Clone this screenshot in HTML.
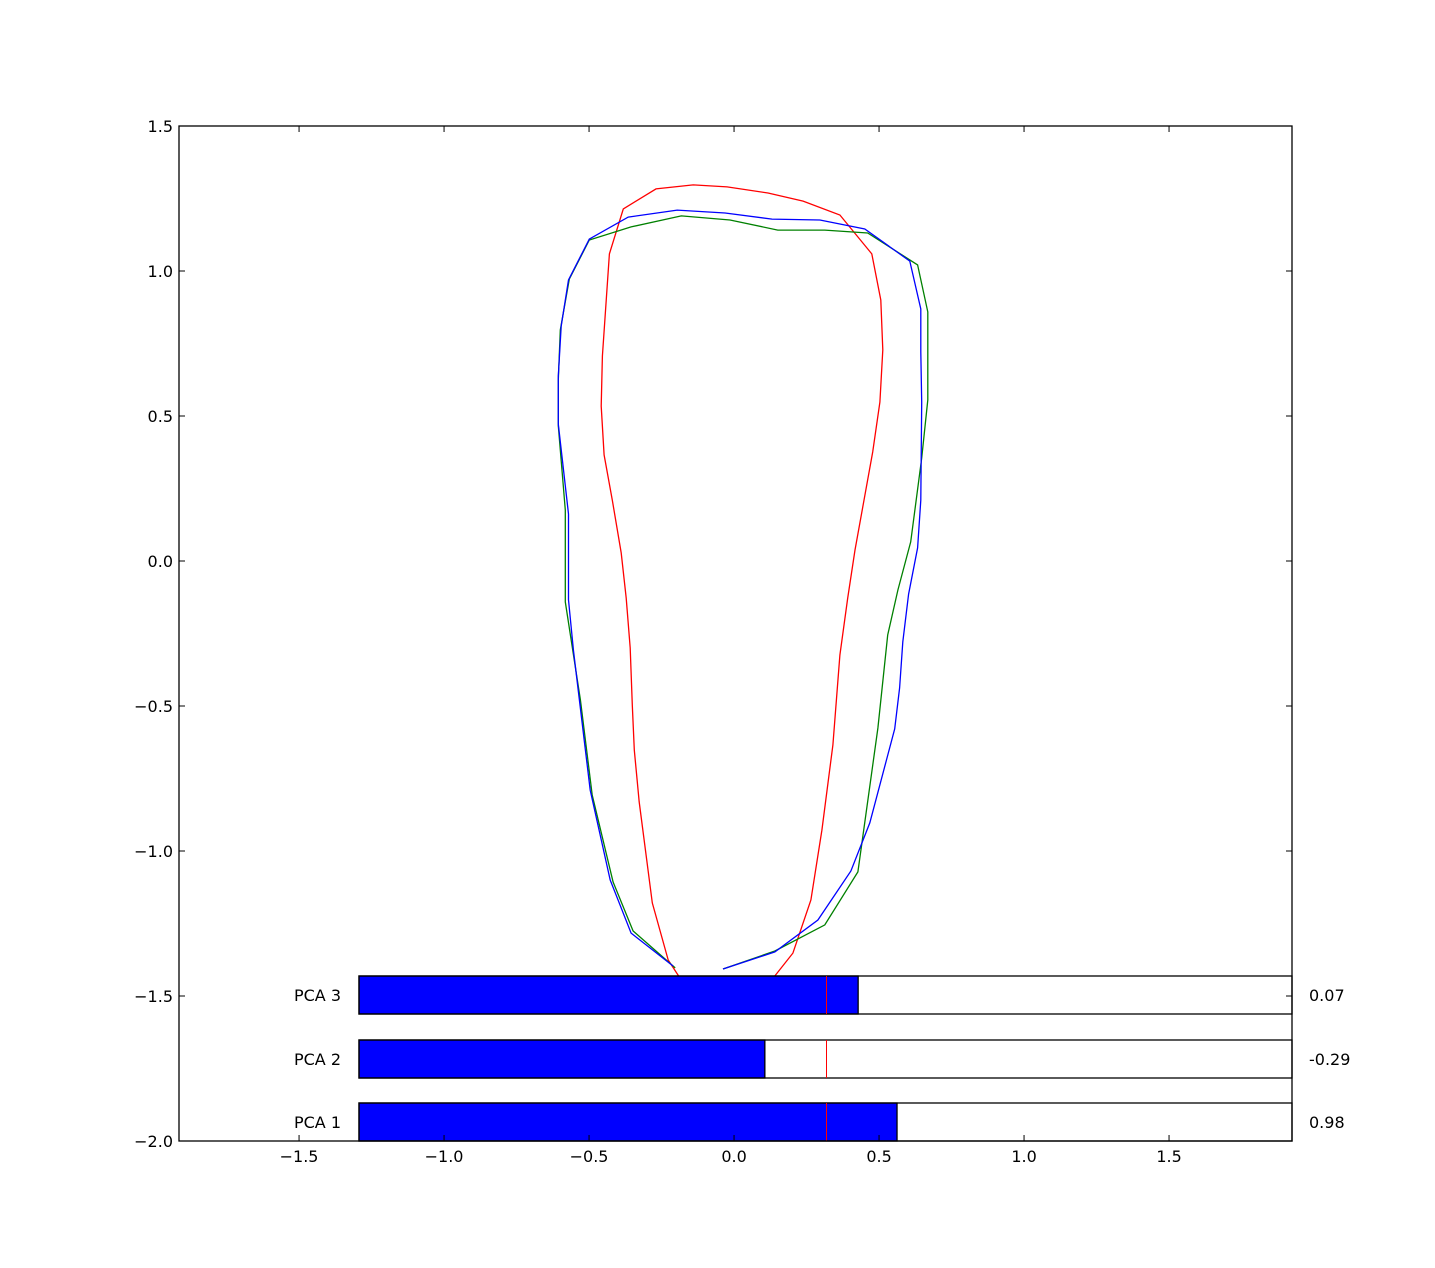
<!DOCTYPE html>
<html><head><meta charset="utf-8"><style>
body{margin:0;background:#fff}
svg{display:block;font-family:"DejaVu Sans","Liberation Sans",sans-serif}
</style></head><body>
<svg id="chart" width="1435" height="1268" viewBox="0 0 1435 1268">
<rect x="0" y="0" width="1435" height="1268" fill="#fff"/>
<g id="curves"></g>
<g id="inset"></g>
<g id="axes"></g>
</svg>
<script>
const xTicks = [-1.5,-1.0,-0.5,0.0,0.5,1.0,1.5];
const yTicks = [1.5,1.0,0.5,0.0,-0.5,-1.0,-1.5,-2.0];
const blueX = [-0.038,0.141,0.289,0.403,0.468,0.554,0.571,0.582,0.602,0.633,0.644,0.647,0.644,0.644,0.606,0.451,0.296,0.131,-0.031,-0.196,-0.365,-0.499,-0.571,-0.596,-0.606,-0.606,-0.571,-0.571,-0.554,-0.496,-0.427,-0.355,-0.210];
const blueY = [-1.407,-1.348,-1.238,-1.069,-0.903,-0.579,-0.438,-0.279,-0.114,0.045,0.210,0.548,0.721,0.869,1.034,1.145,1.176,1.179,1.200,1.210,1.186,1.110,0.969,0.810,0.638,0.472,0.162,-0.134,-0.307,-0.790,-1.100,-1.283,-1.397];
const greenX = [-0.038,0.141,0.313,0.427,0.496,0.530,0.565,0.609,0.647,0.668,0.668,0.633,0.461,0.313,0.151,-0.014,-0.182,-0.355,-0.499,-0.568,-0.599,-0.606,-0.606,-0.582,-0.582,-0.530,-0.489,-0.417,-0.348,-0.203];
const greenY = [-1.407,-1.345,-1.255,-1.072,-0.576,-0.255,-0.100,0.066,0.355,0.555,0.859,1.021,1.131,1.141,1.141,1.176,1.190,1.152,1.107,0.972,0.797,0.624,0.466,0.176,-0.141,-0.479,-0.807,-1.107,-1.276,-1.403];
const redX = [0.138,0.203,0.265,0.303,0.341,0.365,0.392,0.417,0.478,0.503,0.513,0.506,0.475,0.365,0.238,0.117,-0.024,-0.141,-0.269,-0.382,-0.430,-0.454,-0.458,-0.448,-0.420,-0.389,-0.372,-0.358,-0.351,-0.344,-0.327,-0.282,-0.227,-0.189];
const redY = [-1.434,-1.352,-1.169,-0.928,-0.634,-0.324,-0.128,0.038,0.376,0.548,0.728,0.900,1.059,1.193,1.241,1.269,1.290,1.297,1.283,1.214,1.059,0.707,0.534,0.366,0.210,0.028,-0.128,-0.300,-0.497,-0.652,-0.831,-1.179,-1.376,-1.434];
const pcaNames = ["PCA 1","PCA 2","PCA 3"];
const pcaBarValues = [0.46,-0.39,0.21];
const pcaLabels = ["0.98","-0.29","0.07"];
const refValue = 0.0;

const NS="http://www.w3.org/2000/svg";
const L=179,R=1292,T=126,B=1141;
const xMin=-1.914,xMax=1.924,yMin=-2.0,yMax=1.5;
const sx=v=>L+(v-xMin)/(xMax-xMin)*(R-L);
const sy=v=>B-(v-yMin)/(yMax-yMin)*(B-T);
function mk(tag,attrs,parent){const e=document.createElementNS(NS,tag);for(const k in attrs)e.setAttribute(k,attrs[k]);parent.appendChild(e);return e;}
const curves=document.getElementById('curves');
function drawLine(xs,ys,color,name){
  const d=xs.map((x,i)=>(i?'L':'M')+sx(x).toFixed(1)+','+sy(ys[i]).toFixed(1)).join('');
  const p=mk('path',{d:d,fill:'none',stroke:color,'stroke-width':1.3},curves);
  
  
}
drawLine(redX,redY,'#ff0000','red-shape-line');
drawLine(greenX,greenY,'#008000','green-shape-line');
drawLine(blueX,blueY,'#0000ff','blue-shape-line');

const inset=document.getElementById('inset');
const IL=359,IR=1292,bMin=-3,bMax=3;
const bx=v=>IL+(v-bMin)/(bMax-bMin)*(IR-IL);
const rowTop=[1103,1040,976],rowH=38;
pcaNames.forEach((n,i)=>{
  const y=rowTop[i];
  const bg=mk('rect',{x:IL,y:y,width:IR-IL,height:rowH,fill:'#fff',stroke:'none'},inset);
  
  
  const b=mk('rect',{x:IL,y:y,width:bx(pcaBarValues[i])-IL,height:rowH,fill:'#0000ff',stroke:'#000','stroke-width':1.3},inset);
  
  
  const fr=mk('rect',{x:IL,y:y,width:IR-IL,height:rowH,fill:'none',stroke:'#000','stroke-width':1.3},inset);
  
  
  const rx=Math.round(bx(refValue))+0.5;
  const rl=mk('line',{x1:rx,x2:rx,y1:y,y2:y+rowH,stroke:'#ff0000','stroke-width':1,'shape-rendering':'crispEdges'},inset);
  
  
  const t=mk('text',{x:341,y:y+rowH/2+6,'text-anchor':'end','font-size':16},inset);t.textContent=n;
  
  
  const v=mk('text',{x:1309,y:y+rowH/2+6,'font-size':16},inset);v.textContent=pcaLabels[i];
  
  
});

const axes=document.getElementById('axes');
const fr=mk('rect',{x:L,y:T,width:R-L,height:B-T,fill:'none',stroke:'#000','stroke-width':1.3},axes);


const fmt=v=>(v<0?'\u2212':'')+Math.abs(v).toFixed(1);
xTicks.forEach(v=>{
  const x=sx(v);
  mk('line',{x1:x,x2:x,y1:B,y2:B-6,stroke:'#000'},axes);
  mk('line',{x1:x,x2:x,y1:T,y2:T+6,stroke:'#000'},axes);
  const t=mk('text',{x:x,y:B+21,'text-anchor':'middle','font-size':16},axes);t.textContent=fmt(v);
  
  
});
yTicks.forEach(v=>{
  const y=sy(v);
  mk('line',{x1:L,x2:L+6,y1:y,y2:y,stroke:'#000'},axes);
  mk('line',{x1:R,x2:R-6,y1:y,y2:y,stroke:'#000'},axes);
  const t=mk('text',{x:L-6,y:y+6,'text-anchor':'end','font-size':16},axes);t.textContent=fmt(v);
  
  
});
</script>
</body></html>
